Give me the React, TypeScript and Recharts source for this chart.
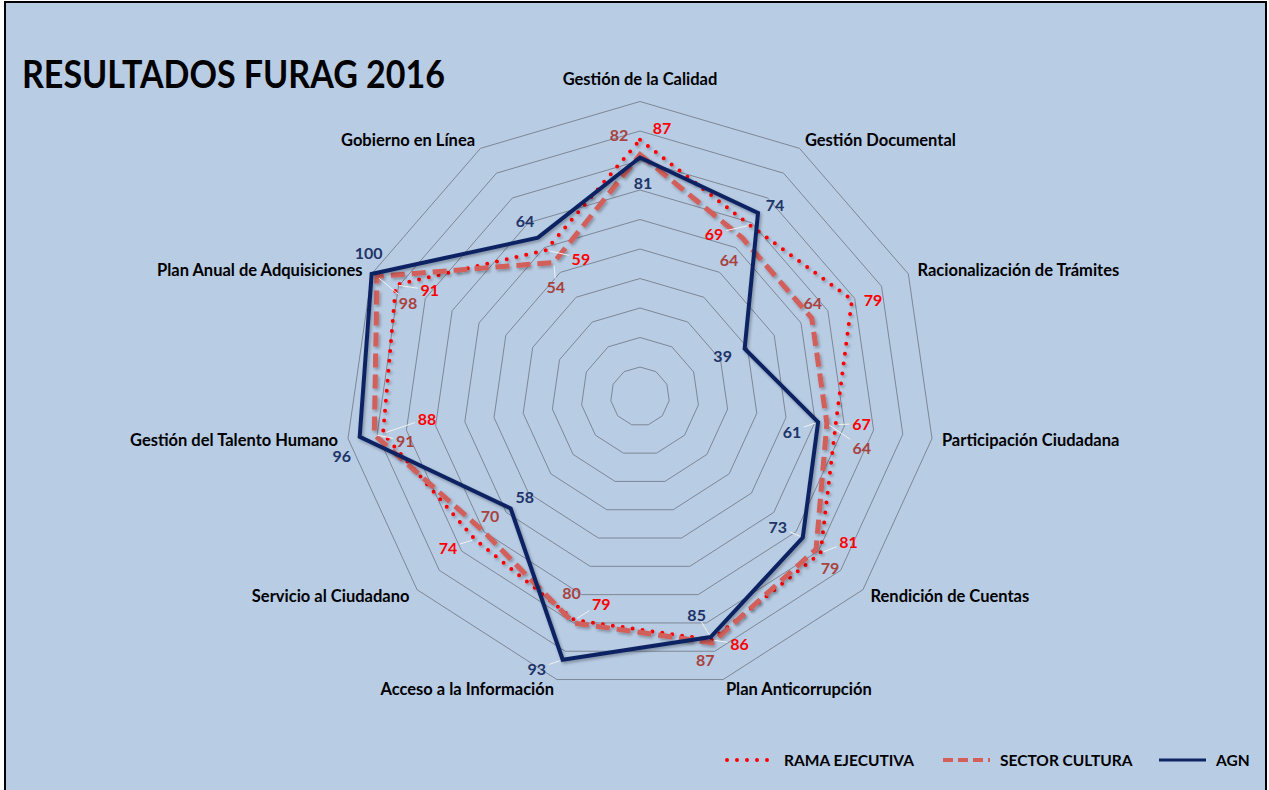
import React from 'react';
import { RadarChart, Radar, PolarGrid, PolarAngleAxis, PolarRadiusAxis, LabelList, Legend } from 'recharts';

const categories = [
  'Gestión de la Calidad',
  'Gestión Documental',
  'Racionalización de Trámites',
  'Participación Ciudadana',
  'Rendición de Cuentas',
  'Plan Anticorrupción',
  'Acceso a la Información',
  'Servicio al Ciudadano',
  'Gestión del Talento Humano',
  'Plan Anual de Adquisiciones',
  'Gobierno en Línea',
];
const ramaEjecutiva = [87, 69, 79, 67, 81, 86, 79, 74, 88, 91, 59];
const sectorCultura = [82, 64, 64, 64, 79, 87, 80, 70, 91, 98, 54];
const agn = [81, 74, 39, 61, 73, 85, 93, 58, 96, 100, 64];
const radiusTicks = [0, 10, 20, 30, 40, 50, 60, 70, 80, 90, 100];
const seriesNames = ['RAMA EJECUTIVA', 'SECTOR CULTURA', 'AGN'];
const title = 'RESULTADOS FURAG 2016';

// label placement (dx, dy relative to point, leader line flag)
const ramaLabelPos: [number, number, boolean][] = [
  [22, -12, false], [-36, 8, true], [21, 0, false], [26, -1, true], [28, -11, true], [28, 4, true],
  [27, -17, true], [-27, 8, true], [44, -15, true], [34, 5, true], [35, 8, true],
];
const sectorLabelPos: [number, number, boolean][] = [
  [-21, -20, false], [-13, 22, false], [1, -16, false], [35, 24, true], [14, 18, false], [-7, 17, false],
  [-2, -30, false], [6, -16, false], [31, 6, true], [31, 26, true], [2, 24, true],
];
const agnLabelPos: [number, number, boolean][] = [
  [3, 25, false], [17, -8, false], [-22, 7, false], [-26, 9, true], [-25, -11, true], [-14, -23, true],
  [-26, 9, true], [14, -12, false], [-18, 19, false], [-3, -21, false], [-13, -17, false],
];

const data = categories.map((c, i) => ({
  category: c,
  rama: ramaEjecutiva[i],
  sector: sectorCultura[i],
  agn: agn[i],
}));

const W = 1269;
const H = 790;
const CX = 640;
const CY = 396.5;
const OUTER = 295;
const FONT = 'Lato, "Open Sans", sans-serif';

const RED = '#FF0000';
const SALMON = '#D35E5A';
const SALMON_TXT = '#A8423F';
const NAVY = '#0F2462';
const NAVY_TXT = '#1F3468';
const BG = '#B8CCE4';

const AngleTick = (props: any) => {
  const { x, y, payload } = props;
  const cx = CX;
  const cy = CY;
  const dx = x - cx;
  const dy = y - cy;
  const d = Math.hypot(dx, dy) || 1;
  const ux = dx / d;
  const uy = dy / d;
  let px = cx + ux * (OUTER + 10);
  let py = cy + uy * (OUTER + 10);
  let anchor = 'middle';
  if (Math.abs(ux) < 0.05) {
    anchor = 'middle';
    py = cy - OUTER - 23;
    px = cx;
  } else if (ux > 0) anchor = 'start';
  else anchor = 'end';
  return (
    <text x={px} y={py} textAnchor={anchor} dominantBaseline="central" fill="#000" fontFamily={FONT} fontWeight={700} fontSize={16.5}>
      {payload.value}
    </text>
  );
};

const makeLabel = (pos: [number, number, boolean][], color: string) => (props: any) => {
  const { x, y, value, index } = props;
  if (x == null || y == null) return null;
  const [dx, dy, leader] = pos[index];
  const lx = x + dx;
  const ly = y + dy;
  let line = null;
  if (leader) {
    const hw = 12;
    const hh = 8;
    const t = Math.max(Math.abs(dx) / hw, Math.abs(dy) / hh);
    const ex = lx - dx / t;
    const ey = ly - dy / t;
    const len = Math.hypot(ex - x, ey - y);
    const sx = x + ((ex - x) / len) * 3;
    const sy = y + ((ey - y) / len) * 3;
    line = <line x1={sx} y1={sy} x2={ex} y2={ey} stroke="#F2F2F2" strokeWidth={1} />;
  }
  return (
    <g>
      {line}
      <text x={lx} y={ly} textAnchor="middle" dominantBaseline="central" fill={color} fontFamily={FONT} fontWeight={700} fontSize={16}>
        {value}
      </text>
    </g>
  );
};

const LegendContent = () => {
  const items = [
    { name: seriesNames[0], color: RED, dash: '0 10', width: 4, cap: 'round' },
    { name: seriesNames[1], color: SALMON, dash: '10 5', width: 4, cap: 'butt' },
    { name: seriesNames[2], color: NAVY, dash: undefined, width: 3, cap: 'butt' },
  ];
  const starts = [0, 216, 432];
  return (
    <svg width={540} height={24} style={{ overflow: 'visible' }}>
      {items.map((it, i) => (
        <g key={it.name} transform={`translate(${starts[i]},0)`}>
          <line x1={3} y1={12} x2={50} y2={12} stroke={it.color} strokeWidth={it.width} strokeDasharray={it.dash} strokeLinecap={it.cap as any} />
          <text x={60} y={12} dominantBaseline="central" fontFamily={FONT} fontWeight={700} fontSize={15.5} fill="#000">
            {it.name}
          </text>
        </g>
      ))}
    </svg>
  );
};

export default function App() {
  return (
    <div style={{ position: 'fixed', left: 0, top: 0, width: W, height: H, background: '#fff', overflow: 'hidden' }}>
      <style>{`.furag-series .recharts-radar-polygon { filter: url(#furagShadow); }`}</style>
      <div style={{ position: 'absolute', left: 4, top: 1, width: 1259, height: 800, border: '2px solid #000', background: BG }} />
      <svg width={0} height={0} style={{ position: 'absolute' }}>
        <defs>
          <filter id="furagShadow" x="-10%" y="-10%" width="120%" height="120%">
            <feDropShadow dx="1.5" dy="2" stdDeviation="1.5" floodColor="#000" floodOpacity="0.3" />
          </filter>
        </defs>
      </svg>
      <div style={{ position: 'absolute', left: 0, top: 0 }}>
        <RadarChart width={W} height={H} data={data} cx={CX} cy={CY} outerRadius={OUTER} margin={{ top: 0, right: 0, bottom: 0, left: 0 }}>
          <PolarGrid gridType="polygon" radialLines={false} stroke="#7E8794" strokeWidth={1} />
          <PolarRadiusAxis domain={[0, 100]} ticks={radiusTicks as any} tickCount={11} axisLine={false} tick={false} />
          <PolarAngleAxis dataKey="category" tick={<AngleTick />} tickLine={false} axisLine={false} />
          <Radar className="furag-series" name={seriesNames[0]} dataKey="rama" stroke={RED} strokeWidth={4} strokeDasharray="0 10" strokeLinecap="round" fill="none" fillOpacity={0} isAnimationActive={false} dot={false}>
            <LabelList dataKey="rama" content={makeLabel(ramaLabelPos, RED)} />
          </Radar>
          <Radar className="furag-series" name={seriesNames[1]} dataKey="sector" stroke={SALMON} strokeWidth={5} strokeDasharray="14 7" fill="none" fillOpacity={0} isAnimationActive={false} dot={false}>
            <LabelList dataKey="sector" content={makeLabel(sectorLabelPos, SALMON_TXT)} />
          </Radar>
          <Radar className="furag-series" name={seriesNames[2]} dataKey="agn" stroke={NAVY} strokeWidth={4} fill="none" fillOpacity={0} isAnimationActive={false} dot={false}>
            <LabelList dataKey="agn" content={makeLabel(agnLabelPos, NAVY_TXT)} />
          </Radar>
          <Legend content={<LegendContent />} wrapperStyle={{ position: 'absolute', left: 724, top: 748, width: 540 }} />
        </RadarChart>
      </div>
      <svg width={W} height={H} style={{ position: 'absolute', left: 0, top: 0, pointerEvents: 'none' }}>
        <text x={22} y={88} fontFamily={FONT} fontWeight={700} fontSize={38} fill="#000" textLength={423} lengthAdjust="spacingAndGlyphs">
          {title}
        </text>
      </svg>
    </div>
  );
}
